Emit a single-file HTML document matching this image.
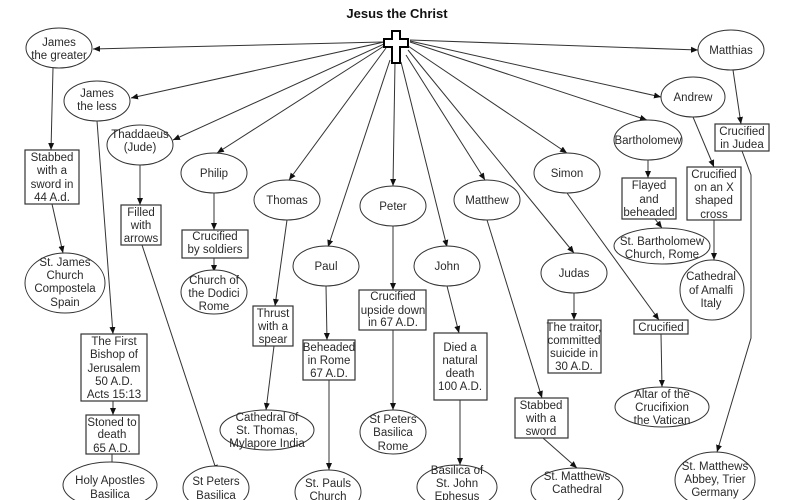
<!DOCTYPE html>
<html><head><meta charset="utf-8"><style>
html,body{margin:0;padding:0;background:#fff;}
svg{display:block;}
text{font-family:"Liberation Sans",sans-serif;font-size:11.5px;fill:#2a2a2a;text-anchor:middle;}
.e{fill:#fff;stroke:#333;stroke-width:1;}
.b{fill:#fff;stroke:#333;stroke-width:1.2;}
.l{stroke:#333;stroke-width:1;fill:none;}
</style></head><body>
<svg width="800" height="500" viewBox="0 0 800 500" xmlns="http://www.w3.org/2000/svg">
<defs><marker id="a" markerWidth="8" markerHeight="8" refX="7" refY="4" orient="auto" markerUnits="userSpaceOnUse"><path d="M0,1 L7,4 L0,7 z" fill="#111"/></marker></defs>
<text x="397" y="18" style="font-weight:bold;font-size:13px;fill:#111">Jesus the Christ</text>
<g class="l" marker-end="url(#a)">
<line x1="384" y1="42" x2="93" y2="49"/>
<line x1="384" y1="42" x2="131" y2="98"/>
<line x1="384" y1="44" x2="173" y2="140"/>
<line x1="384" y1="46" x2="217" y2="153"/>
<line x1="386" y1="48" x2="289" y2="180"/>
<line x1="390" y1="60" x2="328" y2="247"/>
<line x1="395" y1="62" x2="393" y2="186"/>
<line x1="401" y1="62" x2="447" y2="247"/>
<line x1="406" y1="55" x2="485" y2="180"/>
<line x1="408" y1="46" x2="567" y2="153"/>
<line x1="408" y1="50" x2="574" y2="253"/>
<line x1="410" y1="42" x2="647" y2="120"/>
<line x1="410" y1="41" x2="661" y2="97"/>
<line x1="410" y1="40" x2="698" y2="50"/>
<line x1="53" y1="68" x2="51" y2="150"/>
<line x1="97" y1="121" x2="113" y2="334"/>
<line x1="52" y1="204" x2="63" y2="253"/>
<line x1="113" y1="401" x2="113" y2="415"/>
<line x1="112" y1="454" x2="112" y2="472"/>
<line x1="140" y1="165" x2="140" y2="205"/>
<line x1="142" y1="245" x2="217" y2="472"/>
<line x1="214" y1="193" x2="214" y2="230"/>
<line x1="214" y1="258" x2="214" y2="272"/>
<line x1="287" y1="220" x2="275" y2="306"/>
<line x1="274" y1="346" x2="266" y2="410"/>
<line x1="326" y1="286" x2="327" y2="340"/>
<line x1="329" y1="380" x2="329" y2="470"/>
<line x1="393" y1="226" x2="393" y2="290"/>
<line x1="393" y1="330" x2="393" y2="410"/>
<line x1="447" y1="286" x2="459" y2="333"/>
<line x1="460" y1="400" x2="460" y2="465"/>
<line x1="487" y1="220" x2="542" y2="398"/>
<line x1="543" y1="438" x2="577" y2="468"/>
<line x1="574" y1="293" x2="574" y2="320"/>
<line x1="567" y1="193" x2="659" y2="320"/>
<line x1="661" y1="334" x2="662" y2="387"/>
<line x1="648" y1="160" x2="648" y2="178"/>
<line x1="655" y1="219" x2="662" y2="228"/>
<line x1="693" y1="117" x2="714" y2="167"/>
<line x1="714" y1="220" x2="714" y2="260"/>
<line x1="733" y1="70" x2="741" y2="124"/>
<polyline points="742,151 751,175 751,338 717,452"/>
</g>
<path d="M392,31 h8 v8 h8 v8 h-8 v16 h-8 v-16 h-8 v-8 h8 z" fill="#fff" stroke="#000" stroke-width="2"/>
<g class="e">
<ellipse cx="59" cy="48" rx="33" ry="20"/><ellipse cx="97" cy="101" rx="33" ry="20"/>
<ellipse cx="140" cy="145" rx="33" ry="20"/><ellipse cx="214" cy="173" rx="33" ry="20"/>
<ellipse cx="287" cy="200" rx="33" ry="20"/><ellipse cx="393" cy="206" rx="33" ry="20"/>
<ellipse cx="326" cy="266" rx="33" ry="20"/><ellipse cx="447" cy="266" rx="33" ry="20"/>
<ellipse cx="487" cy="200" rx="33" ry="20"/><ellipse cx="567" cy="173" rx="33" ry="20"/>
<ellipse cx="574" cy="273" rx="33" ry="20"/><ellipse cx="648" cy="140" rx="34" ry="20"/>
<ellipse cx="693" cy="97" rx="32" ry="20"/><ellipse cx="731" cy="50" rx="33" ry="20"/>
<ellipse cx="65" cy="283" rx="40" ry="30"/><ellipse cx="110" cy="485" rx="47" ry="23"/>
<ellipse cx="216" cy="488" rx="33" ry="22"/><ellipse cx="214" cy="292" rx="33" ry="22"/>
<ellipse cx="267" cy="430" rx="47" ry="20"/><ellipse cx="328" cy="492" rx="33" ry="22"/>
<ellipse cx="393" cy="432" rx="33" ry="22"/><ellipse cx="457" cy="487" rx="40" ry="22"/>
<ellipse cx="577" cy="490" rx="46" ry="22"/><ellipse cx="662" cy="407" rx="47" ry="20"/>
<ellipse cx="662" cy="246" rx="48" ry="18"/><ellipse cx="712" cy="290" rx="32" ry="30"/>
<ellipse cx="715" cy="480" rx="40" ry="28"/>
</g>
<g class="b">
<rect x="25" y="150" width="54" height="54"/><rect x="81" y="334" width="66" height="67"/>
<rect x="86" y="415" width="53" height="39"/><rect x="121" y="205" width="40" height="40"/>
<rect x="182" y="230" width="66" height="28"/><rect x="253" y="306" width="40" height="40"/>
<rect x="303" y="340" width="52" height="40"/><rect x="359" y="290" width="67" height="40"/>
<rect x="434" y="333" width="53" height="67"/><rect x="515" y="398" width="53" height="40"/>
<rect x="548" y="320" width="53" height="53"/><rect x="634" y="320" width="54" height="14"/>
<rect x="622" y="178" width="54" height="41"/><rect x="687" y="167" width="54" height="53"/>
<rect x="715" y="124" width="54" height="27"/>
</g>
<text x="59" y="46">James</text><text x="59" y="59">the greater</text>
<text x="97" y="97">James</text><text x="97" y="110">the less</text>
<text x="140" y="138">Thaddaeus</text><text x="140" y="151">(Jude)</text>
<text x="214" y="177">Philip</text><text x="287" y="204">Thomas</text>
<text x="393" y="210">Peter</text><text x="326" y="270">Paul</text>
<text x="447" y="270">John</text><text x="487" y="204">Matthew</text>
<text x="567" y="177">Simon</text><text x="574" y="277">Judas</text>
<text x="648" y="144">Bartholomew</text><text x="693" y="101">Andrew</text>
<text x="731" y="54">Matthias</text>
<text x="52" y="161">Stabbed</text><text x="52" y="174">with a</text><text x="52" y="188">sword in</text><text x="52" y="201">44 A.d.</text>
<text x="65" y="266">St. James</text><text x="65" y="279">Church</text><text x="65" y="292">Compostela</text><text x="65" y="306">Spain</text>
<text x="114" y="345">The First</text><text x="114" y="358">Bishop of</text><text x="114" y="372">Jerusalem</text><text x="114" y="385">50 A.D.</text><text x="114" y="398">Acts 15:13</text>
<text x="112" y="426">Stoned to</text><text x="112" y="438">death</text><text x="112" y="452">65 A.D.</text>
<text x="110" y="484">Holy Apostles</text><text x="110" y="498">Basilica</text>
<text x="141" y="216">Filled</text><text x="141" y="229">with</text><text x="141" y="242">arrows</text>
<text x="216" y="485">St Peters</text><text x="216" y="499">Basilica</text>
<text x="215" y="240">Crucified</text><text x="215" y="253">by soldiers</text>
<text x="214" y="284">Church of</text><text x="214" y="297">the Dodici</text><text x="214" y="310">Rome</text>
<text x="273" y="317">Thrust</text><text x="273" y="330">with a</text><text x="273" y="343">spear</text>
<text x="267" y="421">Cathedral of</text><text x="267" y="434">St. Thomas,</text><text x="267" y="447">Mylapore India</text>
<text x="329" y="351">Beheaded</text><text x="329" y="364">in Rome</text><text x="329" y="377">67 A.D.</text>
<text x="328" y="487">St. Pauls</text><text x="328" y="500">Church</text>
<text x="393" y="300">Crucified</text><text x="393" y="314">upside down</text><text x="393" y="326">in 67 A.D.</text>
<text x="393" y="423">St Peters</text><text x="393" y="436">Basilica</text><text x="393" y="450">Rome</text>
<text x="460" y="351">Died a</text><text x="460" y="364">natural</text><text x="460" y="377">death</text><text x="460" y="390">100 A.D.</text>
<text x="457" y="474">Basilica of</text><text x="457" y="487">St. John</text><text x="457" y="500">Ephesus</text>
<text x="541" y="409">Stabbed</text><text x="541" y="422">with a</text><text x="541" y="435">sword</text>
<text x="577" y="480">St. Matthews</text><text x="577" y="493">Cathedral</text>
<text x="574" y="331">The traitor,</text><text x="574" y="344">committed</text><text x="574" y="357">suicide in</text><text x="574" y="370">30 A.D.</text>
<text x="661" y="331">Crucified</text>
<text x="662" y="398">Altar of the</text><text x="662" y="411">Crucifixion</text><text x="662" y="424">the Vatican</text>
<text x="649" y="189">Flayed</text><text x="649" y="203">and</text><text x="649" y="216">beheaded</text>
<text x="662" y="245">St. Bartholomew</text><text x="662" y="258">Church, Rome</text>
<text x="714" y="178">Crucified</text><text x="714" y="191">on an X</text><text x="714" y="204">shaped</text><text x="714" y="218">cross</text>
<text x="711" y="280">Cathedral</text><text x="711" y="294">of Amalfi</text><text x="711" y="307">Italy</text>
<text x="742" y="135">Crucified</text><text x="742" y="148">in Judea</text>
<text x="715" y="470">St. Matthews</text><text x="715" y="483">Abbey, Trier</text><text x="715" y="496">Germany</text>
</svg>
</body></html>
